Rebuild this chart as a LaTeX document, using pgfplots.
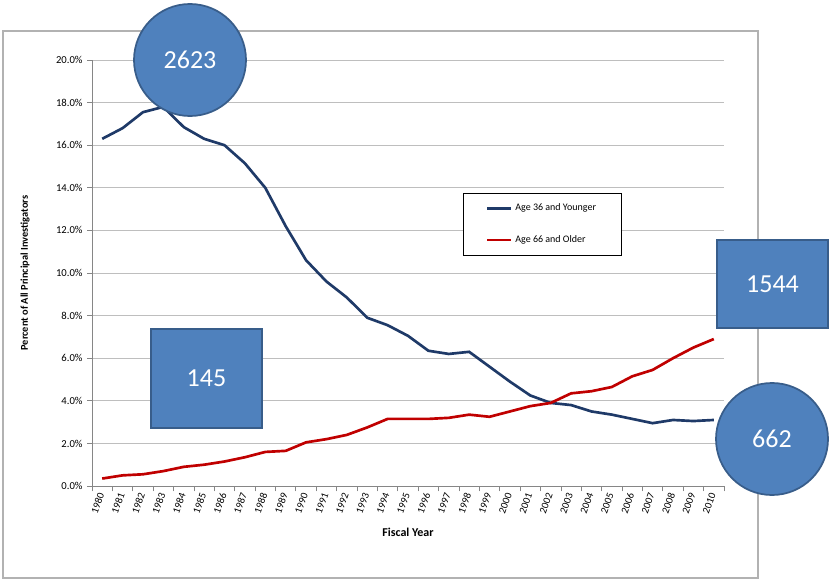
\documentclass[border=0pt]{standalone}
\usepackage{pgfplots}
\pgfplotsset{compat=1.18}
\usepackage{fontspec}
\setmainfont{Carlito}
\definecolor{navy}{HTML}{1F3A68}
\definecolor{darkred}{HTML}{C00000}
\definecolor{callfill}{HTML}{4F81BD}
\definecolor{callline}{HTML}{385D8A}
\definecolor{gridgray}{HTML}{BEBEBE}
\definecolor{axgray}{HTML}{868686}
\begin{document}
\begin{tikzpicture}[x=0.75pt,y=0.75pt]
\path[use as bounding box] (0,0) rectangle (830,583);
\draw[color=gray!60, line width=0.9pt] (3,5) rectangle (758,552);
\begin{axis}[
  at={(69pt,72.75pt)}, anchor=south west,
  scale only axis, width=474pt, height=319.5pt,
  xmin=-0.5, xmax=30.5, ymin=0, ymax=20,
  axis x line*=bottom, axis y line*=left,
  axis line style={-, draw=axgray, line width=0.6pt},
  xtick={0,...,30},
  xticklabels={1980,1981,1982,1983,1984,1985,1986,1987,1988,1989,1990,1991,1992,1993,1994,1995,1996,1997,1998,1999,2000,2001,2002,2003,2004,2005,2006,2007,2008,2009,2010},
  major x tick style={draw=none},
  minor xtick={-0.5,0.5,...,30.5},
  minor x tick style={draw=axgray, line width=0.6pt},
  tick align=outside,
  minor tick length=4pt, major tick length=3.5pt,
  xticklabel style={rotate=70, anchor=east, font=\fontsize{7.8}{8}\selectfont, inner sep=2pt},
  ytick={0,2,...,20},
  yticklabel={\pgfmathprintnumber[fixed,fixed zerofill,precision=1]{\tick}\%},
  yticklabel style={font=\fontsize{8}{9}\selectfont},
  /pgf/number format/assume math mode=true,
  y tick style={draw=axgray, line width=0.6pt},
  ymajorgrids, grid style={draw=gridgray, line width=0.6pt},
  xlabel={\textbf{Fiscal Year}},
  xlabel style={at={(axis description cs:0.5,-0.108)}, anchor=center, font=\fontsize{9}{10}\selectfont},
  ylabel={\textbf{Percent of All Principal Investigators}},
  ylabel style={at={(axis description cs:-0.106,0.5)}, anchor=center, font=\fontsize{7.8}{9}\selectfont},
  legend style={at={(axis description cs:0.587,0.688)}, anchor=north west,
    draw=black, fill=white, line width=0.6pt,
    font=\fontsize{7.5}{8}\selectfont, inner xsep=17pt, inner ysep=6pt,
    row sep=13pt, cells={anchor=west}},
  legend image code/.code={\draw[#1] (0pt,0pt) -- (18pt,0pt);},
]
\addplot[navy, line width=2pt] coordinates {
(0,16.3) (1,16.8) (2,17.55) (3,17.8) (4,16.85) (5,16.3) (6,16.0) (7,15.15) (8,14.0) (9,12.2)
(10,10.6) (11,9.6) (12,8.85) (13,7.9) (14,7.55) (15,7.05) (16,6.35) (17,6.2) (18,6.3) (19,5.6)
(20,4.9) (21,4.25) (22,3.9) (23,3.8) (24,3.5) (25,3.35) (26,3.15) (27,2.95) (28,3.1) (29,3.05) (30,3.1)};
\addlegendentry{Age 36 and Younger}
\addplot[darkred, line width=2pt] coordinates {
(0,0.35) (1,0.5) (2,0.55) (3,0.7) (4,0.9) (5,1.0) (6,1.15) (7,1.35) (8,1.6) (9,1.65)
(10,2.05) (11,2.2) (12,2.4) (13,2.75) (14,3.15) (15,3.15) (16,3.15) (17,3.2) (18,3.35) (19,3.25)
(20,3.5) (21,3.75) (22,3.9) (23,4.35) (24,4.45) (25,4.65) (26,5.15) (27,5.45) (28,6.0) (29,6.5) (30,6.9)};
\addlegendentry{Age 66 and Older}
\end{axis}
\tikzset{callout/.style={fill=callfill, draw=callline, line width=1.3pt, text=white, font=\fontsize{19.5}{20}\selectfont, inner sep=0pt}}
\node[callout, circle, minimum size=84pt] at (190,523) {2623};
\node[callout, circle, minimum size=84pt] at (772,144) {662};
\node[callout, rectangle, minimum width=83.5pt, minimum height=66.5pt] at (772.5,299) {1544};
\node[callout, rectangle, minimum width=83.5pt, minimum height=74.5pt] at (206.5,204.5) {145};
\end{tikzpicture}
\end{document}
